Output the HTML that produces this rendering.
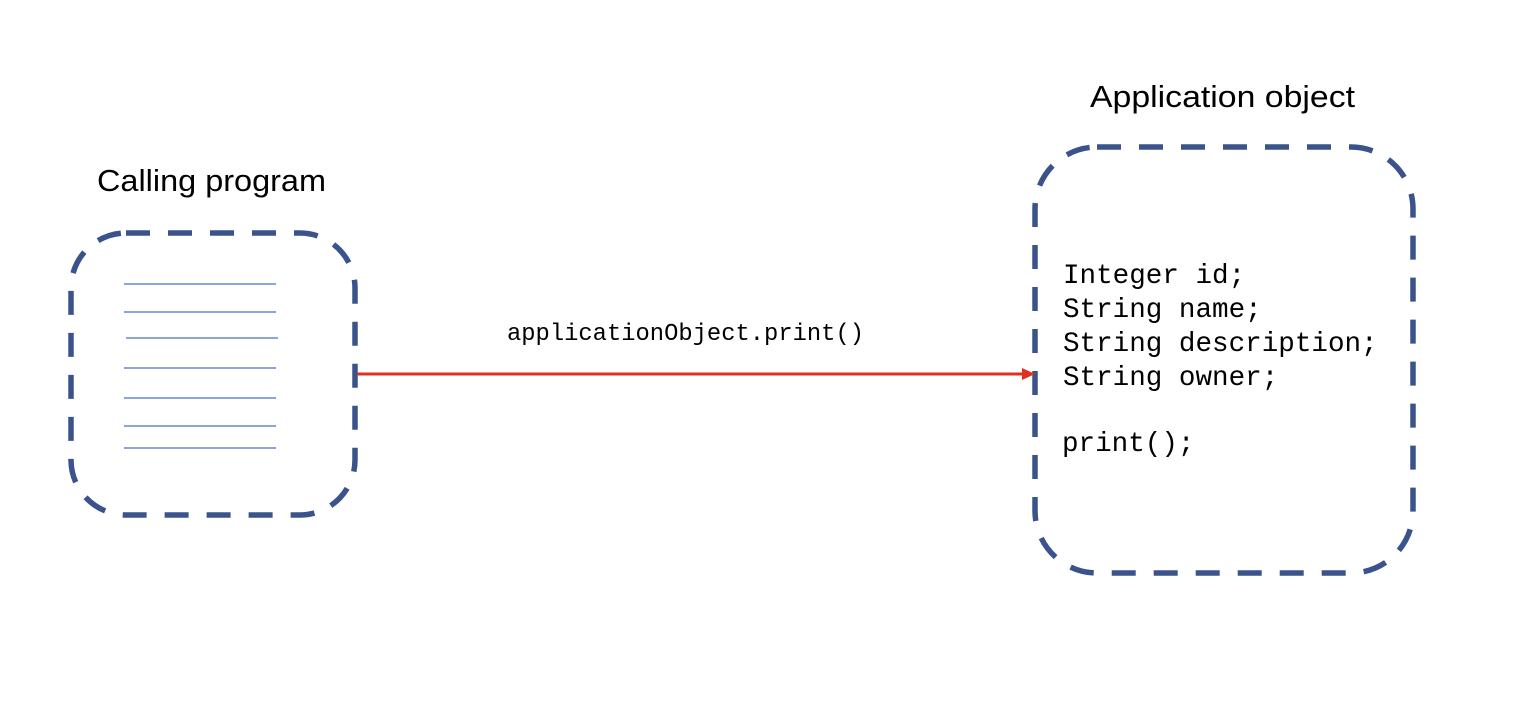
<!DOCTYPE html>
<html><head><meta charset="utf-8"><style>html,body{margin:0;padding:0;background:#fff}svg{display:block}</style></head>
<body>
<svg width="1524" height="712" xmlns="http://www.w3.org/2000/svg">
<rect width="1524" height="712" fill="#fff"/>
<text x="97" y="191" font-family="Liberation Sans, sans-serif" font-size="31" textLength="229" lengthAdjust="spacingAndGlyphs" fill="#000">Calling program</text>
<text x="1090" y="107" font-family="Liberation Sans, sans-serif" font-size="31" textLength="265" lengthAdjust="spacingAndGlyphs" fill="#000">Application object</text>
<rect x="71" y="233" width="284" height="282" rx="55" ry="55" fill="none" stroke="#3a538c" stroke-width="5.5" stroke-dasharray="24 18"/>
<rect x="1035" y="147" width="378" height="426" rx="62" ry="62" fill="none" stroke="#3a538c" stroke-width="5.5" stroke-dasharray="24 18"/>
<g stroke="#4472c4" stroke-width="1.2">
<line x1="124" y1="284" x2="276" y2="284"/>
<line x1="124" y1="312" x2="276" y2="312"/>
<line x1="126" y1="338" x2="278" y2="338"/>
<line x1="124" y1="368" x2="276" y2="368"/>
<line x1="124" y1="398" x2="276" y2="398"/>
<line x1="124" y1="426" x2="276" y2="426"/>
<line x1="124" y1="448" x2="276" y2="448"/>
</g>
<line x1="357" y1="374" x2="1024" y2="374" stroke="#e03020" stroke-width="3"/>
<polygon points="1035,374 1022,368 1022,380" fill="#e03020"/>
<text x="507" y="340" font-family="Liberation Mono, monospace" font-size="23.8" fill="#000">applicationObject.print()</text>
<g font-family="Liberation Mono, monospace" font-size="27.6" fill="#000">
<text x="1063" y="283">Integer id;</text>
<text x="1063" y="317">String name;</text>
<text x="1063" y="351">String description;</text>
<text x="1063" y="385">String owner;</text>
<text x="1062" y="451">print();</text>
</g>
</svg>
</body></html>
